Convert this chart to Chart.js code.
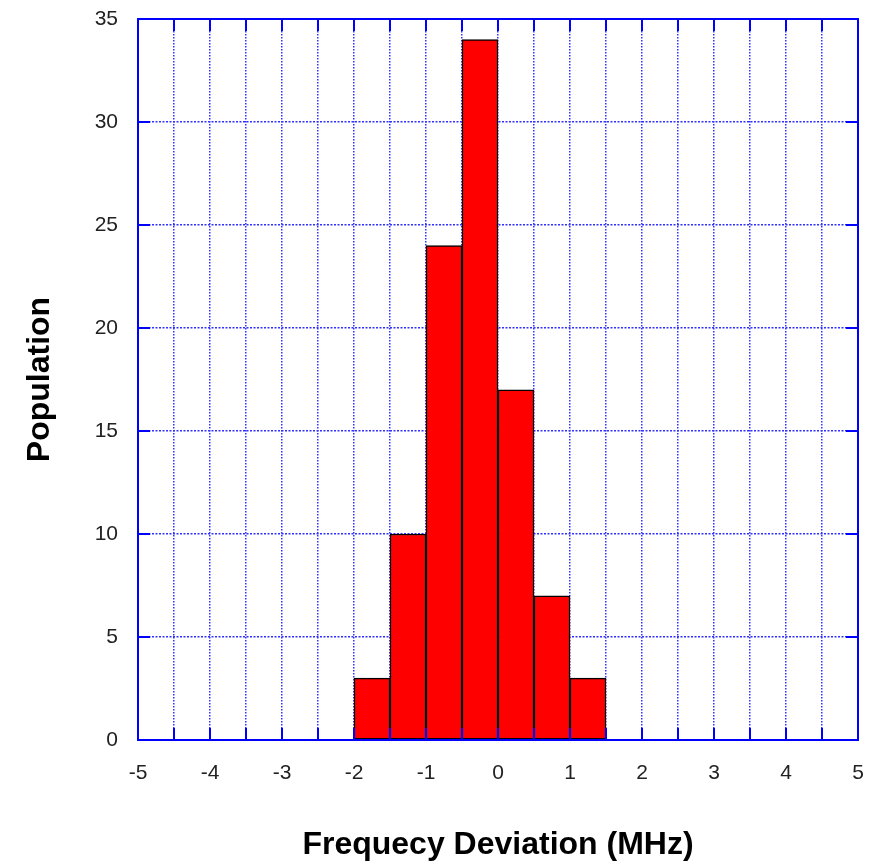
<!DOCTYPE html>
<html>
<head>
<meta charset="utf-8">
<title>Frequency Deviation Histogram</title>
<script src="https://cdn.jsdelivr.net/npm/chart.js@4"></script>
<style>
  html, body { margin: 0; padding: 0; background: #fff; }
  canvas { display: block; }
</style>
</head>
<body>
<canvas id="histChart" width="877" height="864"></canvas>
<script>
// histogram bins (left edge, MHz) and counts
const binStarts = [-2, -1.5, -1, -0.5, 0, 0.5, 1];
const binWidth = 0.5;
const counts = [3, 10, 24, 34, 17, 7, 3];

const xMin = -5, xMax = 5;
const yMin = 0, yMax = 35, yStep = 5;

const blue = '#0000ff';
const gridBlue = '#3030ff';
const labelFont = { family: '"Liberation Sans", Arial, sans-serif', size: 21 };
const titleFont = { family: '"Liberation Sans", Arial, sans-serif', size: 32, weight: 'bold' };

const points = binStarts.map((start, i) => ({ x: start + binWidth / 2, y: counts[i] }));

// solid frame plus inward tick marks, drawn over the bars
const frameTicks = {
    id: 'frameTicks',
    afterDatasetsDraw(chart) {
        const { ctx, chartArea: a, scales } = chart;
        const len = 12;
        ctx.save();
        ctx.strokeStyle = blue;
        ctx.lineWidth = 2;
        ctx.beginPath();
        for (let v = xMin + binWidth; v < xMax; v += binWidth) {
            const px = Math.round(scales.x.getPixelForValue(v));
            ctx.moveTo(px, a.bottom); ctx.lineTo(px, a.bottom - len);
            ctx.moveTo(px, a.top); ctx.lineTo(px, a.top + len);
        }
        for (let v = yMin + yStep; v < yMax; v += yStep) {
            const py = Math.round(scales.y.getPixelForValue(v));
            ctx.moveTo(a.left, py); ctx.lineTo(a.left + len, py);
            ctx.moveTo(a.right, py); ctx.lineTo(a.right - len, py);
        }
        ctx.stroke();
        ctx.strokeRect(a.left, a.top, a.right - a.left, a.bottom - a.top);
        ctx.restore();
    }
};

const config = {
    type: 'bar',
    data: {
        datasets: [{
            data: points,
            backgroundColor: '#ff0000',
            borderColor: '#000000',
            borderWidth: 1.5,
            borderSkipped: false,
            barPercentage: 1,
            categoryPercentage: 1
        }]
    },
    options: {
        responsive: false,
        animation: false,
        layout: { padding: { left: 0, right: 19, top: 19, bottom: 0 } },
        plugins: {
            legend: { display: false },
            tooltip: { enabled: false }
        },
        scales: {
            x: {
                type: 'linear',
                min: xMin,
                max: xMax,
                offset: false,
                afterFit(scale) {
                    scale.height = 124;
                    scale.paddingLeft = 0;
                    scale.paddingRight = 0;
                },
                grid: { offset: false, color: gridBlue, lineWidth: 1.5, drawTicks: false },
                border: { display: false, dash: [1.5, 1.5] },
                ticks: {
                    stepSize: 0.5,
                    padding: 21,
                    color: '#222',
                    font: labelFont,
                    maxRotation: 0,
                    autoSkip: false,
                    callback: v => Number.isInteger(v) ? String(v) : ''
                },
                title: {
                    display: true,
                    text: 'Frequecy Deviation (MHz)',
                    color: '#000',
                    font: titleFont,
                    padding: { top: 0, bottom: 0 }
                }
            },
            y: {
                min: yMin,
                max: yMax,
                afterFit(scale) {
                    scale.width = 138;
                    scale.paddingTop = 0;
                    scale.paddingBottom = 0;
                },
                grid: { color: gridBlue, lineWidth: 1.5, drawTicks: false },
                border: { display: false, dash: [2, 1.5] },
                ticks: {
                    stepSize: yStep,
                    padding: 20,
                    color: '#222',
                    font: labelFont
                },
                title: {
                    display: true,
                    text: 'Population',
                    color: '#000',
                    font: titleFont,
                    padding: { top: 21, bottom: 0 }
                }
            }
        }
    },
    plugins: [frameTicks]
};

const histChart = new Chart(document.getElementById('histChart').getContext('2d'), config);
</script>
</body>
</html>
